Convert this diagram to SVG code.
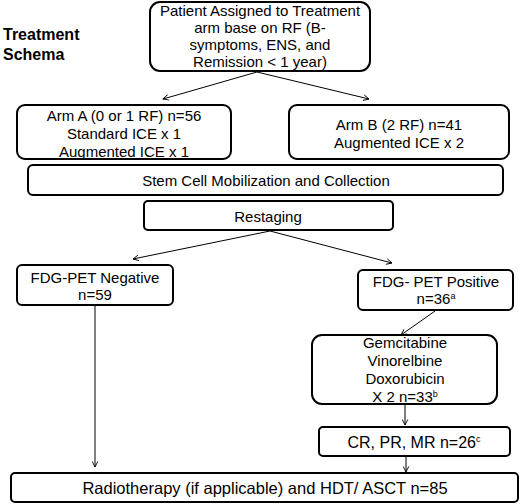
<svg xmlns="http://www.w3.org/2000/svg" width="520" height="504" viewBox="0 0 520 504">
<style>
.box{fill:#fff;stroke:#000;stroke-width:2}
.t{font-family:"Liberation Sans",Arial,sans-serif;font-size:15px;fill:#000;text-anchor:middle}
.big{font-size:16.5px}
.sup{font-size:9px}
.title{font-family:"Liberation Sans",Arial,sans-serif;font-size:16px;font-weight:bold;fill:#000}
.c{fill:none;stroke:#000;stroke-width:1;marker-end:url(#ah)}
</style>
<defs>
<marker id="ah" viewBox="0 0 10 10" refX="9" refY="5" markerWidth="7" markerHeight="7" orient="auto" markerUnits="userSpaceOnUse">
<path d="M1,1 L9,5 L1,9" fill="none" stroke="#000" stroke-width="1.3"/>
</marker>
</defs>
<rect width="520" height="504" fill="#fff"/>
<g id="title">
<text class="title" x="3" y="40">Treatment</text>
<text class="title" x="3" y="60">Schema</text>
</g>
<g id="connectors">
<line class="c" x1="257" y1="72" x2="163" y2="99"/>
<line class="c" x1="257" y1="72" x2="369" y2="99"/>
<line class="c" x1="270" y1="231" x2="133" y2="259"/>
<line class="c" x1="270" y1="231" x2="392" y2="263"/>
<line class="c" x1="435" y1="311" x2="401" y2="335"/>
<line class="c" x1="405" y1="405" x2="405" y2="425"/>
<line class="c" x1="406" y1="457" x2="406" y2="472"/>
<line class="c" x1="95" y1="306" x2="95" y2="467"/>
</g>
<g id="n-patient">
<rect class="box" x="150" y="2" width="220" height="69" rx="10"/>
<text class="t" x="260" y="16">Patient Assigned to Treatment</text>
<text class="t" x="260" y="33">arm base on RF (B-</text>
<text class="t" x="260" y="50">symptoms, ENS, and</text>
<text class="t" x="260" y="67">Remission &lt; 1 year)</text>
</g>
<g id="n-armA">
<rect class="box" x="17" y="105" width="214" height="54" rx="8"/>
<text class="t" x="124" y="121">Arm A (0 or 1 RF) n=56</text>
<text class="t" x="124" y="139">Standard ICE x 1</text>
<text class="t" x="124" y="157">Augmented ICE x 1</text>
</g>
<g id="n-armB">
<rect class="box" x="289" y="105" width="220" height="54" rx="8"/>
<text class="t" x="399" y="130">Arm B (2 RF) n=41</text>
<text class="t" x="399" y="148">Augmented ICE x 2</text>
</g>
<g id="n-stem">
<rect class="box" x="28" y="165" width="475" height="30" rx="5"/>
<text class="t" x="266" y="186">Stem Cell Mobilization and Collection</text>
</g>
<g id="n-restaging">
<rect class="box" x="144" y="201" width="249" height="29" rx="4"/>
<text class="t" x="268" y="222">Restaging</text>
</g>
<g id="n-neg">
<rect class="box" x="17" y="265" width="156" height="40" rx="5"/>
<text class="t" x="95" y="283">FDG-PET Negative</text>
<text class="t" x="95" y="300">n=59</text>
</g>
<g id="n-pos">
<rect class="box" x="358" y="270" width="155" height="40" rx="5"/>
<text class="t" x="436" y="287">FDG- PET Positive</text>
<text class="t" x="436" y="304">n=36<tspan class="sup" dy="-5">a</tspan></text>
</g>
<g id="n-gvd">
<rect class="box" x="312" y="335" width="185" height="69" rx="10"/>
<text class="t" x="405" y="348">Gemcitabine</text>
<text class="t" x="405" y="366">Vinorelbine</text>
<text class="t" x="405" y="384">Doxorubicin</text>
<text class="t" x="405" y="402">X 2 n=33<tspan class="sup" dy="-5">b</tspan></text>
</g>
<g id="n-cr">
<rect class="box" x="319" y="427" width="191" height="29" rx="4"/>
<text class="t" x="414" y="448" style="font-size:16px">CR, PR, MR n=26<tspan class="sup" dy="-6">c</tspan></text>
</g>
<g id="n-final">
<rect class="box" x="11" y="473" width="507" height="29" rx="4"/>
<text class="t big" x="265" y="494">Radiotherapy (if applicable) and HDT/ ASCT n=85</text>
</g>
</svg>
